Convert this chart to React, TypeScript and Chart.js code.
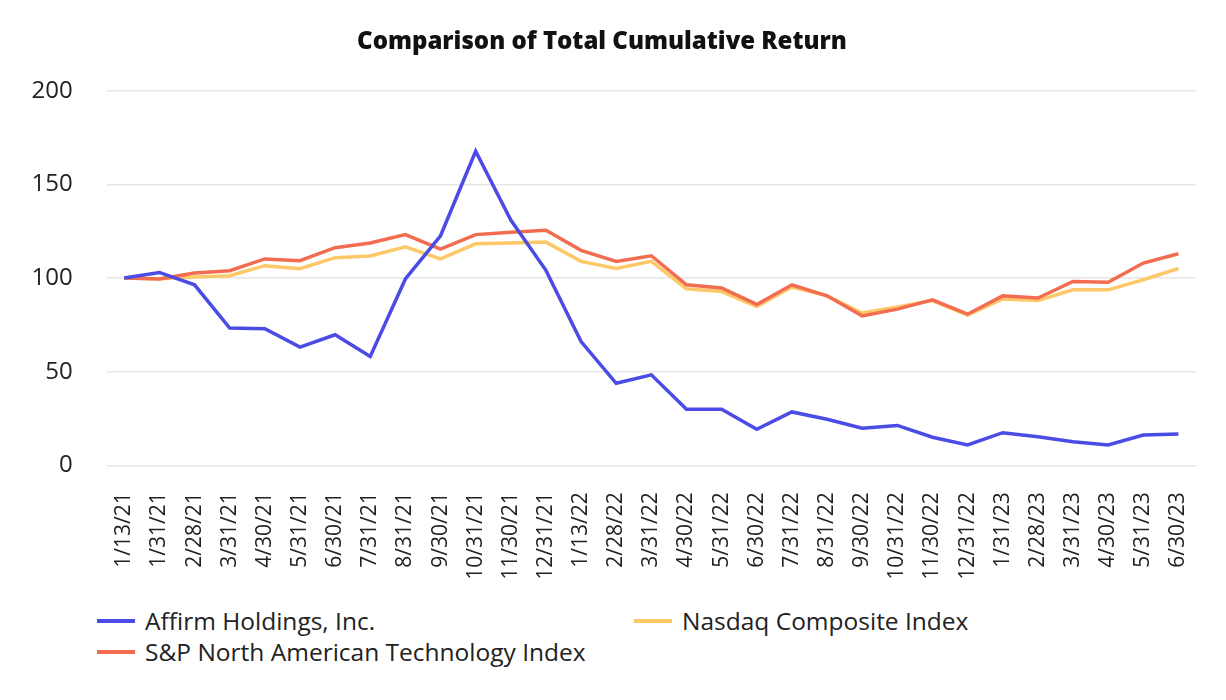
import React, { useEffect, useRef } from "react";
import { Chart, registerables } from "chart.js";

Chart.register(...registerables);

const labels = ["1/13/21","1/31/21","2/28/21","3/31/21","4/30/21","5/31/21","6/30/21","7/31/21","8/31/21","9/30/21","10/31/21","11/30/21","12/31/21","1/13/22","2/28/22","3/31/22","4/30/22","5/31/22","6/30/22","7/31/22","8/31/22","9/30/22","10/31/22","11/30/22","12/31/22","1/31/23","2/28/23","3/31/23","4/30/23","5/31/23","6/30/23"];

const affirm = [100, 103, 96.4, 73.3, 72.9, 63.1, 69.7, 58.1, 99.5, 122.6, 167.7, 131, 104.1, 66.1, 43.8, 48.3, 29.9, 29.9, 19.2, 28.5, 24.6, 19.8, 21.3, 15, 10.9, 17.4, 15.3, 12.6, 10.9, 16.2, 16.7];
const nasdaq = [100, 99.6, 100.5, 101.2, 106.6, 105, 110.9, 111.8, 116.7, 110.2, 118.3, 118.7, 119.2, 108.9, 105.1, 108.9, 94.3, 92.8, 84.8, 95.2, 90.5, 81.3, 84.6, 88, 80.2, 88.8, 88, 93.7, 93.7, 99.1, 105.1];
const spTech = [100, 99.5, 102.7, 103.9, 110.2, 109.3, 116.2, 118.7, 123.2, 115.5, 123.2, 124.4, 125.5, 114.8, 108.9, 111.9, 96.4, 94.7, 85.9, 96.4, 90.5, 79.8, 83.4, 88.4, 80.7, 90.5, 89.3, 98.2, 97.7, 108, 113];

const seriesNames = ["Affirm Holdings, Inc.", "Nasdaq Composite Index", "S&P North American Technology Index"];
const seriesColors = ["#4b4be6", "#fdc867", "#f26d50"];
const yTicks = [0, 50, 100, 150, 200];

const FONT = "'Open Sans', Lato, sans-serif";

export default function App() {
  const ref = useRef<HTMLCanvasElement | null>(null);

  useEffect(() => {
    if (!ref.current) return;
    const chart = new Chart(ref.current, {
      type: "line",
      data: {
        labels,
        datasets: [
          { label: seriesNames[0], data: affirm, borderColor: seriesColors[0], backgroundColor: seriesColors[0], order: 0 },
          { label: seriesNames[1], data: nasdaq, borderColor: seriesColors[1], backgroundColor: seriesColors[1], order: 2 },
          { label: seriesNames[2], data: spTech, borderColor: seriesColors[2], backgroundColor: seriesColors[2], order: 1 },
        ],
      },
      options: {
        responsive: true,
        maintainAspectRatio: false,
        animation: false,
        layout: { padding: { left: 0, right: 22, top: 0, bottom: 0 } },
        elements: {
          line: { borderWidth: 3.5, tension: 0, borderCapStyle: "butt", borderJoinStyle: "miter" },
          point: { radius: 0, hoverRadius: 0 },
        },
        plugins: {
          legend: { display: false },
          tooltip: { enabled: false },
          title: {
            display: true,
            text: "Comparison of Total Cumulative Return",
            color: "#111",
            font: { family: FONT, size: 24, weight: 800 },
            padding: { top: 20, bottom: 34 },
          },
        },
        scales: {
          x: {
            offset: true,
            grid: { display: false, drawTicks: false },
            border: { display: false },
            ticks: {
              autoSkip: false,
              minRotation: 90,
              maxRotation: 90,
              padding: 27,
              color: "#222",
              font: { family: FONT, size: 21 },
            },
            afterFit: (s: any) => { s.height = 139.7; s.paddingLeft = 0; s.paddingRight = 0; },
          },
          y: {
            min: yTicks[0],
            max: yTicks[yTicks.length - 1],
            afterBuildTicks: (s: any) => { s.ticks = yTicks.map((v) => ({ value: v })); },
            grid: { color: "#e6e6e6", lineWidth: 1.5, drawTicks: false },
            border: { display: false },
            ticks: {
              padding: 34,
              color: "#222",
              font: { family: FONT, size: 24 },
            },
            afterFit: (s: any) => { s.width = 98.7; },
          },
        },
      },
    });
    return () => chart.destroy();
  }, []);

  const legendItem = (i: number) => (
    <div style={{ display: "flex", alignItems: "center", height: 31 }}>
      <span style={{ display: "inline-block", width: 38, height: 4, background: seriesColors[i], marginRight: 10 }} />
      <span>{seriesNames[i]}</span>
    </div>
  );

  return (
    <div style={{ width: 1210, fontFamily: FONT }}>
      <div style={{ position: "relative", width: 1210, height: 597 }}>
        <canvas ref={ref} />
      </div>
      <div style={{ display: "grid", gridTemplateColumns: "537px 500px", paddingLeft: 89, fontSize: 24.5, color: "#222" }}>
        {legendItem(0)}
        {legendItem(1)}
        {legendItem(2)}
      </div>
    </div>
  );
}
